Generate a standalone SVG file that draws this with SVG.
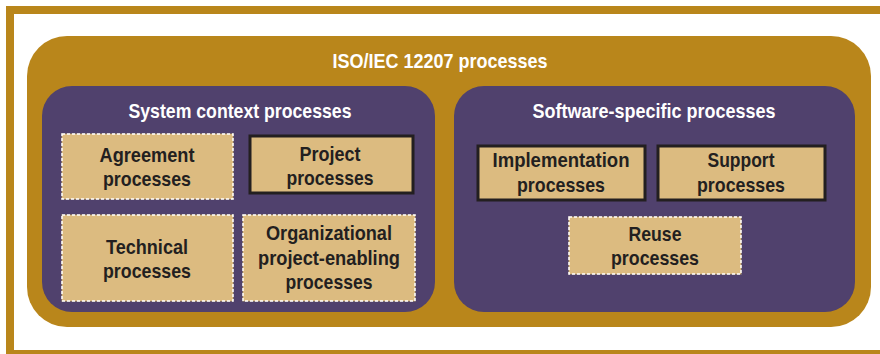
<svg xmlns="http://www.w3.org/2000/svg" width="880" height="354" viewBox="0 0 880 354">
<style>
.t{font-family:"Liberation Sans Narrow","Liberation Sans",Arial,sans-serif;font-weight:bold;text-anchor:middle}
.h{fill:#ffffff;font-size:21px}
.n{fill:#231f20;font-size:21px}
.box{fill:#dcbb80}
.dash{stroke:#ffffff;stroke-width:1.5;stroke-dasharray:3 2}
.dash2{stroke:#8a7a70;stroke-width:1.5;fill:none}
.solid{stroke:#231f20;stroke-width:3}
.grp{fill:#50416d}
</style>
<rect x="0" y="0" width="880" height="354" fill="#ffffff"/>
<g id="frame" fill="#b9861b">
<rect x="6" y="6" width="874" height="8"/>
<rect x="6" y="6" width="8" height="348"/>
<rect x="6" y="350" width="874" height="4"/>
</g>
<g id="iso">
<rect x="27" y="36" width="844" height="291" rx="40" ry="40" fill="#b9861b"/>
<text class="t h" x="440" y="68" textLength="215" lengthAdjust="spacingAndGlyphs">ISO/IEC 12207 processes</text>
</g>
<g id="system-context">
<rect class="grp" x="42" y="86" width="393" height="226" rx="30" ry="30"/>
<text class="t h" x="240" y="118" textLength="223" lengthAdjust="spacingAndGlyphs">System context processes</text>
</g>
<g id="software-specific">
<rect class="grp" x="454" y="86" width="401" height="226" rx="30" ry="30"/>
<text class="t h" x="654" y="118" textLength="243" lengthAdjust="spacingAndGlyphs">Software-specific processes</text>
</g>
<g id="agreement">
<rect class="box dash2" x="62" y="134" width="171" height="65"/>
<rect class="box dash" x="62" y="134" width="171" height="65"/>
<text class="t n" x="147" y="162" textLength="95" lengthAdjust="spacingAndGlyphs">Agreement</text>
<text class="t n" x="147" y="186" textLength="88" lengthAdjust="spacingAndGlyphs">processes</text>
</g>
<g id="project">
<rect class="box solid" x="250" y="136" width="163" height="57"/>
<text class="t n" x="330" y="161" textLength="61" lengthAdjust="spacingAndGlyphs">Project</text>
<text class="t n" x="330" y="185" textLength="87" lengthAdjust="spacingAndGlyphs">processes</text>
</g>
<g id="technical">
<rect class="box dash2" x="62" y="215" width="171" height="86"/>
<rect class="box dash" x="62" y="215" width="171" height="86"/>
<text class="t n" x="147" y="254" textLength="82" lengthAdjust="spacingAndGlyphs">Technical</text>
<text class="t n" x="147" y="278" textLength="88" lengthAdjust="spacingAndGlyphs">processes</text>
</g>
<g id="organizational">
<rect class="box dash2" x="243" y="215" width="172" height="86"/>
<rect class="box dash" x="243" y="215" width="172" height="86"/>
<text class="t n" x="329" y="240" textLength="126" lengthAdjust="spacingAndGlyphs">Organizational</text>
<text class="t n" x="329" y="265" textLength="142" lengthAdjust="spacingAndGlyphs">project-enabling</text>
<text class="t n" x="329" y="289" textLength="87" lengthAdjust="spacingAndGlyphs">processes</text>
</g>
<g id="implementation">
<rect class="box solid" x="478" y="146" width="167" height="54"/>
<text class="t n" x="561" y="167" textLength="137" lengthAdjust="spacingAndGlyphs">Implementation</text>
<text class="t n" x="561" y="192" textLength="88" lengthAdjust="spacingAndGlyphs">processes</text>
</g>
<g id="support">
<rect class="box solid" x="658" y="146" width="167" height="54"/>
<text class="t n" x="741" y="167" textLength="67" lengthAdjust="spacingAndGlyphs">Support</text>
<text class="t n" x="741" y="192" textLength="88" lengthAdjust="spacingAndGlyphs">processes</text>
</g>
<g id="reuse">
<rect class="box dash2" x="569" y="217" width="172" height="57"/>
<rect class="box dash" x="569" y="217" width="172" height="57"/>
<text class="t n" x="655" y="241" textLength="53" lengthAdjust="spacingAndGlyphs">Reuse</text>
<text class="t n" x="655" y="265" textLength="88" lengthAdjust="spacingAndGlyphs">processes</text>
</g>
<g id="connectors"></g>
</svg>
